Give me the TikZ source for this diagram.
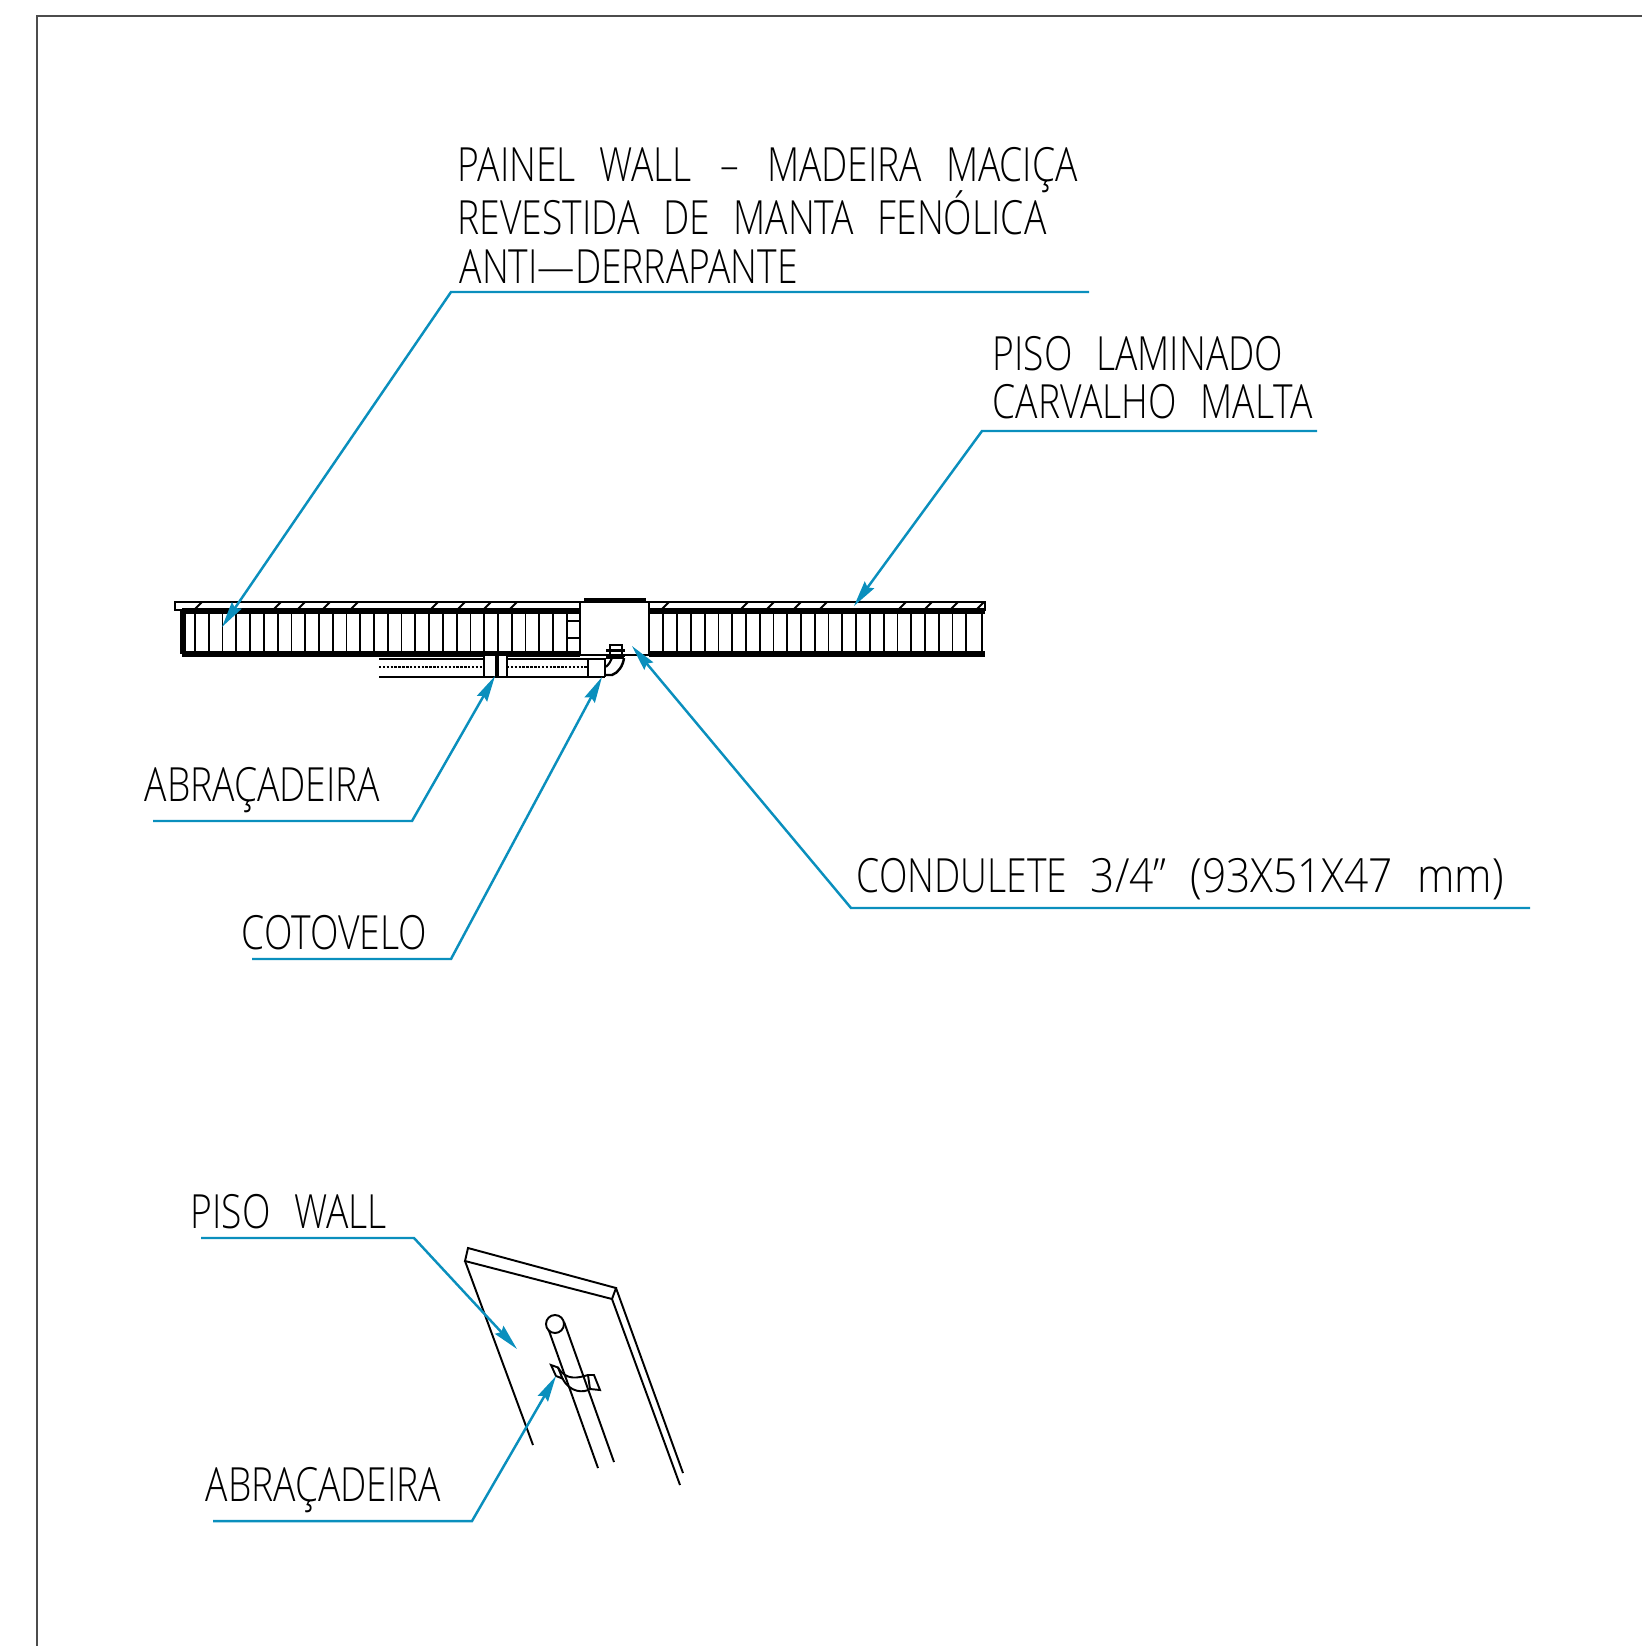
\documentclass[tikz,border=0pt]{standalone}
\usepackage{fontspec}
\usepackage{tikz}
\usetikzlibrary{arrows.meta}
\newfontfamily\cadfont[FakeStretch=0.79,WordSpace=2.45]{Open Sans Light}
\newfontfamily\cadwide[FakeStretch=0.9,WordSpace=2.2]{Open Sans Light}
\begin{document}
\begin{tikzpicture}[x=0.01cm,y=-0.01cm,>={Stealth[length=0.26cm,width=0.115cm,inset=0.03cm]}]
\tikzstyle{every node}=[anchor=base west,inner sep=0pt,font=\cadfont\fontsize{13.4pt}{15pt}\selectfont];
\tikzstyle{thinline}=[line width=0.55pt,black];
\tikzstyle{thickline}=[line width=1.5pt,black];
\tikzstyle{leader}=[line width=0.7pt,color={rgb,255:red,10;green,143;blue,189}];
\useasboundingbox (0,0) rectangle (1642,1646);
% sheet border
    \coordinate (f1) at (37,1646);
    \coordinate (f2) at (37,16);
    \coordinate (f3) at (1642,16);
    \draw[line width=0.35pt,black!70] (f1) -- (f2) -- (f3);
% draw section
%   floor strip
    \draw[thinline] (175,602) rectangle (985,610);
    \foreach \xs in {194,273,297,322,350,430,457,483,509,661,740,766,793,819,898,924,950,976}
        \draw[thinline] (\xs,610) -- ++(8,-8);
%   panel
    \draw[thickline] (182,611) -- (580,611);
    \draw[thickline] (649,611) -- (985,611);
    \draw[thickline] (182,654) -- (580,654);
    \draw[thickline] (649,654) -- (985,654);
    \draw[thickline] (183,611) -- (183,654);
    \foreach \k in {0,...,27}
        \draw[line width=0.5pt] ({195+13.77*\k},611) -- ({195+13.77*\k},654);
    \foreach \k in {0,...,22}
        \draw[line width=0.5pt] ({663.3+13.77*\k},611) -- ({663.3+13.77*\k},654);
    \draw[line width=0.5pt] (982,611) -- (982,654);
%   condulete box
    \draw[thinline,fill=white] (580,602) rectangle (649,655);
    \draw[line width=1.1pt] (584,600) -- (646,600);
    \draw[line width=0.7pt,fill=white] (567,621) rectangle (580,638);
%   conduit
    \draw[thinline] (379,659) -- (605,659);
    \draw[line width=0.7pt,dash pattern=on 0.7pt off 0.4pt] (379,667) -- (484,667);
    \draw[line width=0.7pt,dash pattern=on 0.7pt off 0.4pt] (507,667) -- (587,667);
    \draw[thinline] (379,677) -- (605,677);
%   clamp
    \draw[thinline,fill=white] (484,655) rectangle (507,677);
    \draw[line width=1.3pt] (497,655) -- (497,677);
%   elbow
    \draw[line width=0.7pt] (588,658) -- (588,677);
    \draw[line width=0.7pt] (605,658) -- (605,677);
    \draw[line width=0.7pt] (605,675) -- (612,675) .. controls (618,673) and (623,666) .. (624,658);
    \draw[line width=0.7pt] (606,658) -- (624,658);
    \draw[line width=0.6pt] (606,667) .. controls (609,664) and (611,661) .. (612,658);
%   fitting
    \draw[line width=0.6pt,fill=white] (610,645) rectangle (622,656);
    \draw[line width=0.6pt] (606,650.5) -- (625,650.5);
    \draw[line width=0.6pt] (606,655.5) -- (625,655.5);
% draw perspective
%   plate
    \coordinate (p1) at (468,1248);
    \coordinate (p2) at (616,1288);
    \coordinate (p3) at (612,1299);
    \coordinate (p4) at (465,1261);
    \coordinate (p5) at (533,1445);
    \coordinate (p6) at (680,1485);
    \coordinate (p7) at (683,1473);
    \draw[thinline] (p1) -- (p2) -- (p3) -- (p4) -- cycle;
    \draw[thinline] (p5) -- (p4);
    \draw[thinline] (p3) -- (p6);
    \draw[thinline] (p2) -- (p7);
%   pipe
    \draw[thinline] (555,1324) circle (9);
    \draw[thinline] (548.7,1330) -- (598,1468);
    \draw[thinline] (564,1321.7) -- (614,1462);
%   clip
    \draw[thinline] (551,1365) -- (558,1367.5) -- (562.5,1378.5) -- (556,1376) -- cycle;
    \draw[thinline] (558,1367.5) .. controls (566,1381) and (578,1378) .. (588,1375);
    \draw[thinline] (562.5,1378.5) .. controls (570,1393) and (584,1393) .. (590,1389);
    \draw[thinline] (588,1375) -- (594,1375) -- (600,1390) -- (590,1389) -- cycle;
% leaders
%   nodes
    \node (painelA) at (457,182) {PAINEL WALL\hspace{0.1em} –\hspace{0.1em} MADEIRA MACIÇA};
    \node (painelB) at (457,235) {REVESTIDA DE MANTA FENÓLICA};
    \node (painelC) at (459,284) {ANTI—DERRAPANTE};
    \node (pisoA) at (992,370) {PISO LAMINADO};
    \node (pisoB) at (992,418) {CARVALHO MALTA};
    \node (abrac) at (144,801) {ABRAÇADEIRA};
    \node (cotov) at (241,949) {COTOVELO};
    \node (condu) at (856,892) {CONDULETE {\cadwide\fontsize{13.4pt}{15pt}\selectfont 3/4” (93X51X47 mm)}};
    \node (wall) at (190,1228) {PISO WALL};
    \node (abracB) at (205,1501) {ABRAÇADEIRA};
%   edges
    \coordinate (a1) at (1089,292);
    \coordinate (a2) at (451,292);
    \coordinate (a3) at (222,627);
    \draw[leader,->] (a1) -- (a2) -- (a3);
    \coordinate (b1) at (1317,431);
    \coordinate (b2) at (982,431);
    \coordinate (b3) at (854,606);
    \draw[leader,->] (b1) -- (b2) -- (b3);
    \coordinate (c1) at (153,821);
    \coordinate (c2) at (412,821);
    \coordinate (c3) at (495,676);
    \draw[leader,->] (c1) -- (c2) -- (c3);
    \coordinate (d1) at (252,959);
    \coordinate (d2) at (451,959);
    \coordinate (d3) at (602,677);
    \draw[leader,->] (d1) -- (d2) -- (d3);
    \coordinate (e1) at (1530,908);
    \coordinate (e2) at (851,908);
    \coordinate (e3) at (632,646);
    \draw[leader,->] (e1) -- (e2) -- (e3);
    \coordinate (g1) at (201,1238);
    \coordinate (g2) at (414,1238);
    \coordinate (g3) at (517,1349);
    \draw[leader,->] (g1) -- (g2) -- (g3);
    \coordinate (h1) at (213,1521);
    \coordinate (h2) at (472,1521);
    \coordinate (h3) at (556,1376);
    \draw[leader,->] (h1) -- (h2) -- (h3);
\end{tikzpicture}
\end{document}
